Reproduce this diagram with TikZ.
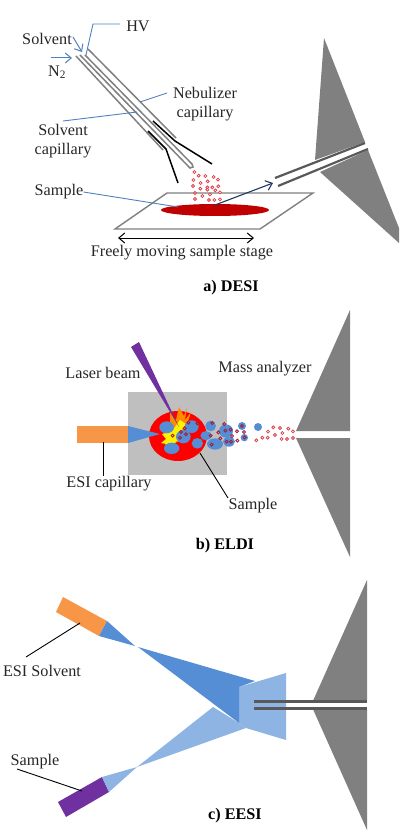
\documentclass[tikz,border=0pt]{standalone}
\usepackage{fontspec}
\setmainfont{Liberation Serif}
\usetikzlibrary{arrows.meta}
\definecolor{leader}{HTML}{4F81BD}
\definecolor{capgray}{HTML}{808080}
\definecolor{tubegray}{HTML}{595959}
\definecolor{stagered}{HTML}{C00000}
\definecolor{deepnavy}{HTML}{1F3864}
\definecolor{esiorange}{HTML}{F79646}
\definecolor{laserpurple}{HTML}{7030A0}
\definecolor{sprayblue}{HTML}{558ED5}
\definecolor{spraylight}{HTML}{8EB4E3}
\definecolor{platform}{HTML}{BFBFBF}
\definecolor{dropred}{HTML}{E0404A}
\definecolor{dropdark}{HTML}{A02040}
\tikzset{
  x=1pt, y=-1pt,
  label text/.style={font=\fontsize{16.2}{19}\selectfont, inner sep=0pt, text=black!85, align=center},
  title text/.style={font=\fontsize{16.2}{19}\selectfont\bfseries, inner sep=0pt},
  blue leader/.style={draw=leader, line width=0.9pt},
  black leader/.style={draw=black, line width=0.9pt},
  blue arrow/.style={draw=leader, line width=1pt, -{Straight Barb[length=6pt,width=10pt]}},
  capillary/.style={draw=capgray, line width=1.5pt},
  nozzle/.style={draw=black, line width=1.5pt},
  analyzer/.style={fill=capgray, draw=none},
  tube/.style={draw=tubegray, line width=2.2pt},
  drop/.style={draw=dropred, line width=0.8pt, fill=white},
}
\begin{document}
\begin{tikzpicture}
\useasboundingbox (0,0) rectangle (399,837);

% ---- a) DESI ----
% sample stage and spot
\draw[draw=capgray, line width=1.4pt] (167,193) -- (313,193) -- (260,229) -- (115,229) -- cycle;
\fill[stagered] (215,210) ellipse [x radius=54, y radius=6];
% analyzer cone with inlet
\fill[analyzer] (324,38) -- (365,142) -- (315,160) -- cycle;
\fill[analyzer] (368,150) -- (399,228) -- (399,243) -- (320,172) -- cycle;
\coordinate (inA1) at (275,178); \coordinate (inA2) at (365,143);
\coordinate (inB1) at (278,186); \coordinate (inB2) at (368,149);
\draw[tube] (inA1) -- (inA2);
\draw[tube] (inB1) -- (inB2);
% coaxial capillaries
\draw[capillary] (88,49) -- (176,138);
\draw[capillary] (85,55) -- (192,164) -- (193,167) -- (190,168) -- (80,55);
\draw[capillary] (76,56) -- (163,150);
% nebulizer nozzle
\draw[nozzle] (153,121) -- (175,141) -- (212,164);
\draw[nozzle] (148,131) -- (166,149) -- (178,183);
% desorbed droplets
\foreach \x/\y in {193/126,206/137,226/138,251/141,264/149,190/150,212/159,233/154,265/169,189/168,211/176,232/172,232/179,247/172,256/181,270/187,195/189,217/198,240/193,195/207,237/210,253/210,270/208}
  \draw[drop] ({130+\x/3},{130+\y/3}) circle [radius=1.5];
% labels and leaders
\node[label text] (hv) at (138,26) {HV};
\node[label text] (solventA) at (47,39) {Solvent};
\node[label text] (ntwo) at (57,72) {N\textsubscript{2}};
\node[label text] (nebu) at (205,104) {Nebulizer\\capillary};
\node[label text] (solcap) at (63,141) {Solvent\\capillary};
\node[label text] (sampleA) at (59,192) {Sample};
\node[label text] (stage) at (182,253) {Freely moving sample stage};
\node[title text] (titleA) at (231,288) {a) DESI};
\coordinate (hvBend) at (93,24); \coordinate (hvEnd) at (86,55);
\coordinate (solHead) at (82,52); \coordinate (nHead) at (72,58);
\coordinate (nTail) at (51,58); \coordinate (solTail) at (73,37);
\draw[blue leader] (hv.west) ++(-6,-2) -- (hvBend) -- (hvEnd);
\draw[blue arrow] (solTail) -- (solHead);
\draw[blue arrow] (nTail) -- (nHead);
\coordinate (nebEnd) at (140,102); \coordinate (nebStart) at (167,93);
\draw[blue leader] (nebStart) -- (nebEnd);
\coordinate (solEnd) at (137,112); \coordinate (solStart) at (63,121);
\draw[blue leader] (solStart) -- (solEnd);
\coordinate (sampEnd) at (178,207);
\draw[blue leader] (sampleA.east) -- (sampEnd);
\coordinate (ionStart) at (215,205); \coordinate (ionEnd) at (273,183);
\draw[draw=deepnavy, line width=1.1pt, -{Straight Barb[length=6pt,width=10pt]}] (ionStart) -- (ionEnd);
\coordinate (moveL) at (118,238); \coordinate (moveR) at (254,238);
\draw[draw=black, line width=1pt, {Straight Barb[length=6pt,width=10pt]}-{Straight Barb[length=6pt,width=10pt]}] (moveL) -- (moveR);

% ---- b) ELDI ----
\fill[platform] (128,392) rectangle (227,475);
\fill[esiorange] (77,426) rectangle (128,443);
\fill[red] (178,436) ellipse [x radius=29, y radius=25];
% ablation flash
\fill[orange!90!yellow] (170,412) -- (176,420) -- (179,407) -- (184,416) -- (187,407) -- (185,420) -- (191,412) -- (186,428) -- (178,442) -- (165,445) -- (170,430) -- cycle;
\fill[yellow] (162,434) -- (172,431) -- (180,420) -- (186,424) -- (180,432) -- (186,442) -- (176,441) -- (172,452) -- (167,444) -- (161,443) -- (166,439) -- cycle;
\fill[sprayblue] (128,426) -- (160,434) -- (128,443) -- cycle;
\foreach \x/\y/\rx/\ry in {140/172/22/18,155/235/23/17,215/170/21/19,190/200/22/20,232/220/17/16,272/168/16/16,258/197/17/14,285/222/24/17,318/183/21/20,327/215/18/15,366/168/12/12,373/203/11/11,414/171/12/12}
  \fill[sprayblue] ({120+\x/3},{370+\y/3}) ellipse [x radius={\rx/3}, y radius={\ry/3}];
% beam
\fill[laserpurple] (131,347) -- (139,342) -- (179,427) -- cycle;
% charged droplets over the spray
\foreach \x/\y in {158/197,183/186,198/193,180/203,194/175,205/158,232/160,277/159,313/162,295/187,316/182,332/179,351/184,372/186,272/197,301/205,336/198,275/224,320/215,333/215,352/212,366/168,374/202}
  \draw[draw=dropdark, line width=0.9pt] ({120+\x/3},{370+\y/3}) circle [radius=1.5];
\foreach \x/\y in {589/361,607/353,623/353,624/335,640/322,660/324,645/345,667/339,685/326,699/334,665/357,681/357,699/354}
  \draw[drop] ({60+\x/3},{320+\y/3}) circle [radius=1.5];
% analyzer cone
\fill[analyzer] (350,310) -- (350,431) -- (296,431) -- cycle;
\fill[analyzer] (350,557) -- (350,438) -- (296,438) -- cycle;
\node[label text] (laser) at (103,373) {Laser beam};
\node[label text] (massan) at (265,369) {Mass analyzer};
\node[label text] (esicap) at (109,484) {ESI capillary};
\node[label text] (sampleB) at (253,506) {Sample};
\node[title text] (titleB) at (225,546) {b) ELDI};
\coordinate (capTop) at (103,442);
\draw[black leader] (capTop) -- (esicap.north -| capTop);
\coordinate (spotEdge) at (200,453); \coordinate (sampTail) at (228,498);
\draw[black leader] (spotEdge) -- (sampTail);

% ---- c) EESI ----
\fill[esiorange] (63,597) -- (107,621) -- (99,636) -- (56,612) -- cycle;
\fill[sprayblue] (107,621) -- (135,646) -- (99,636) -- cycle;
\fill[laserpurple] (102,777) -- (109,792) -- (66,817) -- (58,802) -- cycle;
\fill[spraylight] (102,777) -- (137,767) -- (109,792) -- cycle;
\fill[spraylight] (137,767) -- (213,707) -- (239,723) -- (246,728) -- cycle;
\fill[spraylight] (239,687) -- (286,673) -- (286,740) -- (246,728) -- (239,723) -- cycle;
\fill[sprayblue] (138,647) -- (255,681) -- (239,687) -- (239,723) -- cycle;
\fill[analyzer] (367,580) -- (367,700) -- (312,703) -- cycle;
\fill[analyzer] (367,830) -- (367,710) -- (312,707) -- cycle;
\coordinate (cA1) at (254,701.5); \coordinate (cA2) at (367,701.5);
\coordinate (cB1) at (254,708.5); \coordinate (cB2) at (367,708.5);
\draw[tube, line width=2.8pt] (cA1) -- (cA2);
\draw[tube, line width=2.8pt] (cB1) -- (cB2);
\node[label text] (esisol) at (42,671) {ESI Solvent};
\node[label text] (sampleC) at (35,762) {Sample};
\node[title text] (titleC) at (235,816) {c) EESI};
\coordinate (solvOn) at (80,623); \coordinate (solvTail) at (26,657);
\draw[black leader] (solvTail) -- (solvOn);
\coordinate (sampOn) at (82,791); \coordinate (sampStart) at (17,769);
\draw[black leader] (sampStart) -- (sampOn);
\end{tikzpicture}
\end{document}
